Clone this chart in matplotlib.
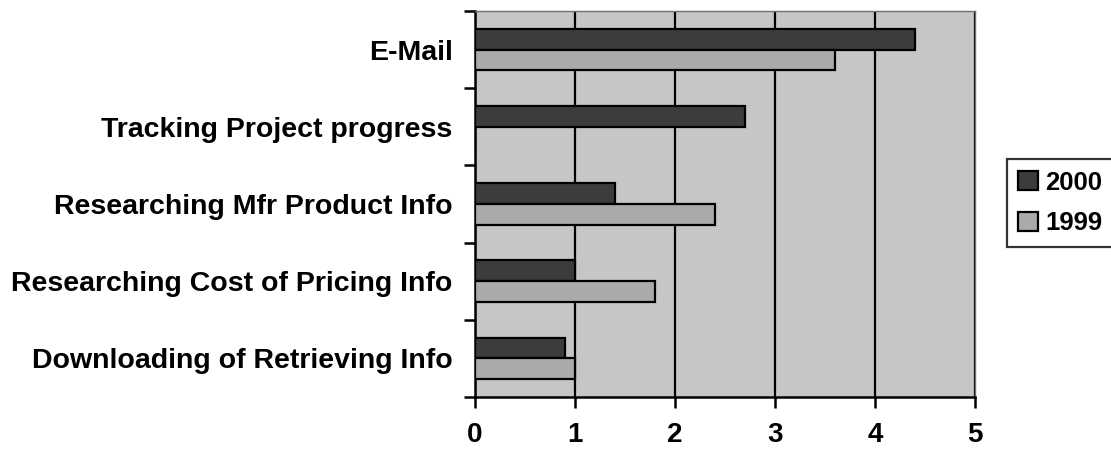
# -*- coding: utf-8 -*-

import numpy as np
import matplotlib.pyplot as plt
from matplotlib.ticker import FixedLocator

plt.rcParams['font.family'] = ['Liberation Sans', 'DejaVu Sans']
plt.rcParams['font.weight'] = 'bold'

"""
DATA
===============================================================================
"""
categories = ['E-Mail',
              'Tracking Project progress',
              'Researching Mfr Product Info',
              'Researching Cost of Pricing Info',
              'Downloading of Retrieving Info']
usage_2000 = [4.4, 2.7, 1.4, 1.0, 0.9]
usage_1999 = [3.6, 0.0, 2.4, 1.8, 1.0]
xticks = [0, 1, 2, 3, 4, 5]

"""
PLOT
===============================================================================
"""
fig = plt.figure(figsize=(11.11, 4.51), dpi=100)
ax = fig.add_axes([0.4275, 0.1197, 0.450, 0.8559])
ax.set_facecolor('#c6c6c6')

pos = np.arange(len(categories))
h = 0.27
ax.barh(pos - h/2, usage_2000, height=h, color='#3c3c3c',
        edgecolor='black', linewidth=1.6, label='2000', zorder=3)
ax.barh(pos + h/2, usage_1999, height=h, color='#aaaaaa',
        edgecolor='black', linewidth=1.6, label='1999', zorder=3)

ax.set_xlim(0, 5)
ax.set_ylim(len(categories) - 0.5, -0.5)

# x axis
ax.set_xticks(xticks)
ax.set_xticklabels([str(t) for t in xticks], fontsize=20, fontweight='bold')
ax.tick_params(axis='x', direction='out', length=8, width=1.8, pad=10)
ax.grid(axis='x', color='black', linewidth=1.6, zorder=1)
ax.set_axisbelow(True)

# y axis: labels at category centres, ticks on boundaries
ax.set_yticks(pos)
ax.set_yticklabels(categories, fontsize=20.5, fontweight='bold')
ax.yaxis.set_minor_locator(FixedLocator(np.arange(-0.5, len(categories), 1)))
ax.tick_params(axis='y', which='major', length=0, pad=16)
ax.tick_params(axis='y', which='minor', direction='out', length=8, width=1.8)

for side in ['left', 'bottom']:
    ax.spines[side].set_linewidth(1.8)
    ax.spines[side].set_color('black')
for side in ['top', 'right']:
    ax.spines[side].set_linewidth(1.0)
    ax.spines[side].set_color('#707070')

leg = fig.legend(loc='center left', bbox_to_anchor=(0.906, 0.55),
                 fontsize=18.5, frameon=True, fancybox=False,
                 edgecolor='black', handlelength=0.78, handleheight=0.78,
                 handletextpad=0.27, labelspacing=0.65, borderpad=0.45,
                 borderaxespad=0)
leg.get_frame().set_linewidth(1.6)
for t in leg.get_texts():
    t.set_fontweight('bold')

fig.savefig('out.png', dpi=100)
